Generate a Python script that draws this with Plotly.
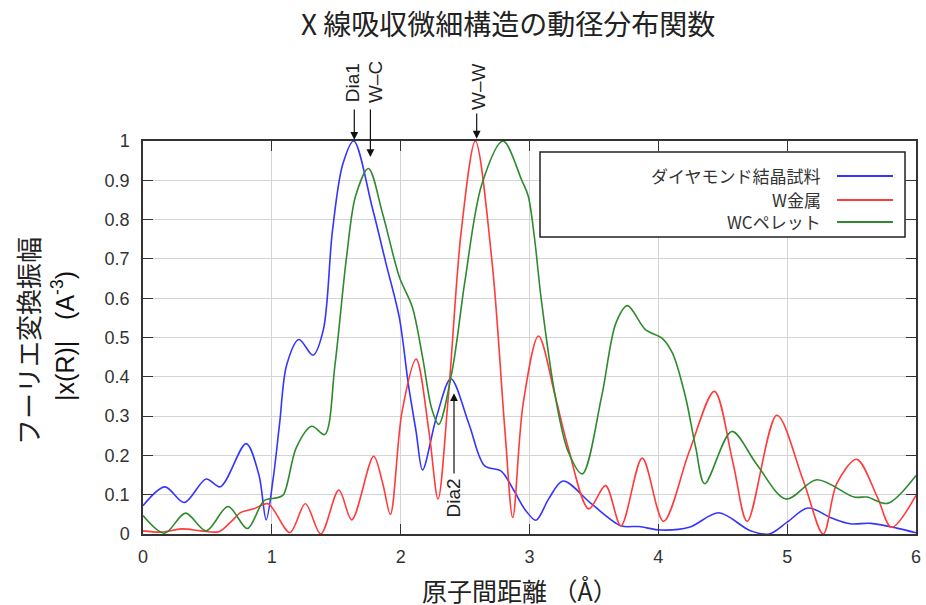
import plotly.graph_objects as go

# ---- data ----
r_dia = [0, 0.17, 0.32, 0.49, 0.60, 0.80, 0.90, 0.956, 1.01, 1.06, 1.115, 1.21, 1.32, 1.40, 1.47,
         1.55, 1.636, 1.78, 1.885, 1.99, 2.06, 2.12, 2.17, 2.28, 2.39, 2.53, 2.65, 2.78, 2.88,
         2.97, 3.05, 3.15, 3.26, 3.48, 3.71, 3.85, 4.02, 4.24, 4.47, 4.71, 4.86, 5.00, 5.16,
         5.35, 5.49, 5.65, 5.85, 6.0]
chi_dia = [0.072, 0.12, 0.08, 0.14, 0.12, 0.23, 0.15, 0.036, 0.14, 0.28, 0.43, 0.495, 0.455, 0.52, 0.77,
           0.94, 1.0, 0.83, 0.69, 0.55, 0.38, 0.26, 0.163, 0.30, 0.395, 0.28, 0.174, 0.16, 0.11,
           0.06, 0.035, 0.09, 0.135, 0.077, 0.021, 0.019, 0.01, 0.017, 0.054, 0.009, 0.0, 0.03, 0.066,
           0.04, 0.026, 0.027, 0.015, 0.003]

r_w = [0, 0.15, 0.3, 0.45, 0.59, 0.68, 0.76, 0.86, 0.97, 1.14, 1.26, 1.38, 1.52, 1.62, 1.79, 1.86,
       1.92, 2.01, 2.12, 2.22, 2.29, 2.37, 2.47, 2.58, 2.71, 2.81, 2.87, 2.95, 3.07, 3.2, 3.30,
       3.46, 3.59, 3.71, 3.875, 4.04, 4.24, 4.435, 4.58, 4.69, 4.92, 5.125, 5.28, 5.385, 5.54,
       5.70, 5.81, 6.0]
chi_w = [0.008, 0.005, 0.013, 0.008, 0.006, 0.03, 0.055, 0.064, 0.077, 0.004, 0.077, 0.0, 0.112, 0.036, 0.198, 0.13,
         0.05, 0.31, 0.445, 0.26, 0.089, 0.35, 0.77, 1.0, 0.69, 0.26, 0.042, 0.33, 0.504, 0.35, 0.22,
         0.064, 0.123, 0.021, 0.193, 0.032, 0.21, 0.363, 0.18, 0.032, 0.302, 0.136, 0.0, 0.128, 0.19,
         0.094, 0.017, 0.098]

r_wc = [0, 0.167, 0.33, 0.49, 0.66, 0.81, 0.94, 1.04, 1.09, 1.19, 1.31, 1.41, 1.49, 1.58, 1.65, 1.75,
        1.86, 1.99, 2.09, 2.17, 2.24, 2.295, 2.40, 2.50, 2.63, 2.795, 2.94, 2.99, 3.04, 3.09, 3.2,
        3.30, 3.41, 3.56, 3.67, 3.76, 3.90, 4.03, 4.11, 4.21, 4.29, 4.36, 4.57, 4.76, 4.99, 5.23,
        5.52, 5.62, 5.78, 6.0]
chi_wc = [0.047, 0.002, 0.053, 0.008, 0.07, 0.014, 0.085, 0.092, 0.10, 0.22, 0.274, 0.253, 0.43, 0.705, 0.86, 0.93,
          0.815, 0.654, 0.578, 0.45, 0.32, 0.279, 0.416, 0.646, 0.89, 1.0, 0.90, 0.86, 0.75, 0.60, 0.35,
          0.21, 0.153, 0.35, 0.536, 0.581, 0.52, 0.498, 0.46, 0.35, 0.22, 0.128, 0.261, 0.179, 0.089, 0.138,
          0.094, 0.094, 0.078, 0.149]

series_names = ["ダイヤモンド結晶試料", "W金属", "WCペレット"]
series_colors = ["#3535ff", "#ff3b3b", "#2f8a2f"]
x_ticks = [0, 1, 2, 3, 4, 5, 6]
y_ticks = [0, 0.1, 0.2, 0.3, 0.4, 0.5, 0.6, 0.7, 0.8, 0.9, 1]
y_tick_text = ["0", "0.1", "0.2", "0.3", "0.4", "0.5", "0.6", "0.7", "0.8", "0.9", "1"]

# peak labels: (text, text_x, text_y, arrow_x, head_y, tail_y)  -- y in axis fraction (range 0..1)
peak_labels = [
    ("Dia1", 1.625, 1.148, 1.64, 1.003, 1.084),
    ("W–C", 1.805, 1.149, 1.765, 0.959, 1.084),
    ("W–W", 2.605, 1.139, 2.59, 1.006, 1.074),
    ("Dia2", 2.406, 0.093, 2.414, 0.358, 0.150),
]

PLOT_H = 393  # plot area height in px

fig = go.Figure()
for xs, ys, name, col in zip([r_dia, r_w, r_wc], [chi_dia, chi_w, chi_wc], series_names, series_colors):
    fig.add_trace(go.Scatter(x=xs, y=ys, mode="lines", name=name,
                             line=dict(color=col, width=1.6, shape="spline", smoothing=0.9),
                             showlegend=False))

tick_font = dict(family="Liberation Sans, Arial, sans-serif", size=18, color="#333")
fig.update_layout(
    width=926, height=605,
    margin=dict(l=143, r=5, t=141, b=71),
    paper_bgcolor="white", plot_bgcolor="white",
    xaxis=dict(range=[0, 6], tickvals=x_ticks, ticks="inside", ticklen=10, tickcolor="#333",
               showline=True, linecolor="#333", linewidth=1.5, mirror="allticks",
               showgrid=True, gridcolor="#d4d4d4", gridwidth=1, zeroline=False,
               tickfont=tick_font, ticklabelstandoff=6),
    yaxis=dict(range=[0, 1], tickvals=y_ticks, ticktext=y_tick_text, ticks="inside", ticklen=10,
               tickcolor="#333", showline=True, linecolor="#333", linewidth=1.5, mirror="allticks",
               showgrid=True, gridcolor="#d4d4d4", gridwidth=1, zeroline=False,
               tickfont=tick_font, ticklabelstandoff=8),
)

cjk = "Noto Sans CJK JP, sans-serif"
ann = []
# title
ann.append(dict(text="X 線吸収微細構造の動径分布関数", xref="paper", yref="paper", x=0.472, y=1.300,
                showarrow=False, font=dict(family=cjk, size=28, color="#222"), xanchor="center", yanchor="middle"))
# x axis title
ann.append(dict(text="原子間距離 （Å）", xref="paper", yref="paper", x=0.488, y=-0.1425,
                showarrow=False, font=dict(family=cjk, size=25, color="#222"), xanchor="center", yanchor="middle"))
# y axis title (two lines)
ann.append(dict(text="フーリエ変換振幅", xref="paper", yref="paper", x=-0.150, y=0.491, textangle=-90,
                showarrow=False, font=dict(family=cjk, size=26, color="#222"), xanchor="center", yanchor="middle"))
ann.append(dict(text="|x(R)|   (A<sup>-3</sup>)", xref="paper", yref="paper", x=-0.1035, y=0.504, textangle=-90,
                showarrow=False, font=dict(family="Liberation Sans, Arial, sans-serif", size=25, color="#111"),
                xanchor="center", yanchor="middle"))
# peak labels
for txt, tx, ty, axx, hy, tyl in peak_labels:
    ann.append(dict(text=txt, x=tx, y=ty, xref="x", yref="paper", textangle=-90, showarrow=False,
                    font=dict(family="Liberation Sans, Arial, sans-serif", size=19, color="#222"),
                    xanchor="center", yanchor="middle"))
    ann.append(dict(text="", x=axx, y=hy, xref="x", yref="paper", ax=0, ay=-(tyl - hy) * PLOT_H,
                    axref="pixel", ayref="pixel",
                    showarrow=True, arrowhead=2, arrowsize=1.3, arrowwidth=1.2, arrowcolor="#111"))

# legend box (drawn manually: text right, line sample on the right)
shapes = [dict(type="rect", xref="paper", yref="paper", x0=0.5136, x1=0.9858, y0=0.7557, y1=0.972,
               line=dict(color="#222", width=1.5), fillcolor="white", layer="above")]
row_y = [0.911, 0.850, 0.794]
for name, col, yy in zip(series_names, series_colors, row_y):
    ann.append(dict(text=name, xref="paper", yref="paper", x=0.8797, y=yy, xanchor="right", yanchor="middle",
                    showarrow=False, font=dict(family=cjk, size=17, color="#333")))
    shapes.append(dict(type="line", xref="paper", yref="paper", x0=0.8978, x1=0.9702, y0=yy, y1=yy,
                       line=dict(color=col, width=2), layer="above"))

fig.update_layout(annotations=ann, shapes=shapes)
fig.write_html("out.html", config={"displayModeBar": False},
               post_script="document.body.style.margin='0';document.body.style.overflow='hidden';")
